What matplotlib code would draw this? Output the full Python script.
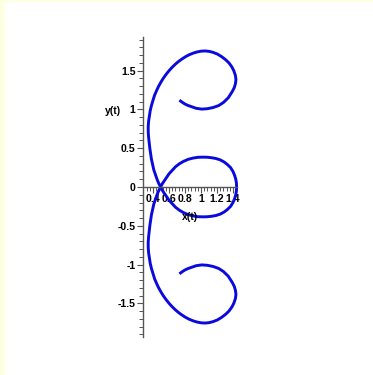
import matplotlib
matplotlib.use("Agg")
import matplotlib.pyplot as plt
from matplotlib.ticker import MultipleLocator, FixedLocator
from matplotlib.patches import Rectangle

# Parametric curve points (x(t), y(t)), in drawing order
x_pts = [0.73, 0.765, 0.80, 0.835, 0.87, 0.94, 1.01, 1.08, 1.15, 1.22, 1.28, 1.34, 1.39, 1.415, 1.43,
         1.437, 1.43, 1.41, 1.385, 1.35, 1.31, 1.26, 1.205, 1.15, 1.10, 1.05, 1.00, 0.95, 0.90, 0.85, 0.805,
         0.76, 0.72, 0.68, 0.64, 0.60, 0.565, 0.53,
         0.50, 0.47, 0.445, 0.42, 0.40, 0.38, 0.365, 0.355, 0.345, 0.34, 0.34, 0.345, 0.352, 0.36, 0.37,
         0.38, 0.395, 0.41, 0.43, 0.45, 0.47, 0.494,
         0.515, 0.54, 0.57, 0.60, 0.64, 0.68, 0.73, 0.78, 0.84, 0.90, 0.96, 1.02, 1.075, 1.13, 1.185,
         1.24, 1.29, 1.33, 1.37, 1.40, 1.42, 1.435, 1.443, 1.445,
         1.443, 1.435, 1.42, 1.40, 1.37, 1.33, 1.29, 1.24, 1.185, 1.13, 1.075, 1.02, 0.96, 0.90, 0.84,
         0.78, 0.73, 0.68, 0.64, 0.60, 0.57, 0.54, 0.515, 0.494,
         0.47, 0.45, 0.43, 0.41, 0.395, 0.38, 0.37, 0.36, 0.352, 0.345, 0.34, 0.34, 0.345, 0.355, 0.365,
         0.38, 0.40, 0.42, 0.445, 0.47, 0.50,
         0.53, 0.565, 0.60, 0.64, 0.68, 0.72, 0.76, 0.805, 0.85, 0.90, 0.95, 1.00, 1.05, 1.10, 1.15,
         1.205, 1.26, 1.31, 1.35, 1.385, 1.41, 1.43, 1.437, 1.43, 1.415, 1.39, 1.34, 1.28, 1.22, 1.15,
         1.08, 1.01, 0.94, 0.87, 0.835, 0.80, 0.765, 0.73]
y_pts = [1.12, 1.093, 1.07, 1.053, 1.04, 1.015, 1.005, 1.01, 1.025, 1.05, 1.09, 1.15, 1.23, 1.28, 1.33,
         1.385, 1.44, 1.50, 1.55, 1.60, 1.64, 1.68, 1.715, 1.737, 1.75, 1.755, 1.752, 1.742, 1.726, 1.705, 1.68,
         1.65, 1.62, 1.585, 1.545, 1.50, 1.455, 1.405,
         1.355, 1.30, 1.245, 1.185, 1.12, 1.05, 0.985, 0.92, 0.85, 0.78, 0.71, 0.64, 0.57, 0.50, 0.43,
         0.36, 0.29, 0.22, 0.16, 0.10, 0.05, 0.0,
         -0.04, -0.08, -0.125, -0.17, -0.215, -0.26, -0.30, -0.33, -0.357, -0.373, -0.383, -0.385, -0.384, -0.378, -0.368,
         -0.35, -0.322, -0.29, -0.25, -0.20, -0.15, -0.10, -0.05, 0.0,
         0.05, 0.10, 0.15, 0.20, 0.25, 0.29, 0.322, 0.35, 0.368, 0.378, 0.384, 0.385, 0.383, 0.373, 0.357,
         0.33, 0.30, 0.26, 0.215, 0.17, 0.125, 0.08, 0.04, 0.0,
         -0.05, -0.10, -0.16, -0.22, -0.29, -0.36, -0.43, -0.50, -0.57, -0.64, -0.71, -0.78, -0.85, -0.92, -0.985,
         -1.05, -1.12, -1.185, -1.245, -1.30, -1.355,
         -1.405, -1.455, -1.50, -1.545, -1.585, -1.62, -1.65, -1.68, -1.705, -1.726, -1.742, -1.752, -1.755, -1.75, -1.737,
         -1.715, -1.68, -1.64, -1.60, -1.55, -1.50, -1.44, -1.385, -1.33, -1.28, -1.23, -1.15, -1.09, -1.05, -1.025,
         -1.01, -1.005, -1.015, -1.04, -1.053, -1.07, -1.093, -1.12]

x_ticks = [0.4, 0.6, 0.8, 1.0, 1.2, 1.4]
x_tick_labels = ["0.4", "0.6", "0.8", "1", "1.2", "1.4"]
y_ticks = [-1.5, -1.0, -0.5, 0.0, 0.5, 1.0, 1.5]
y_tick_labels = ["-1.5", "-1", "-0.5", "0", "0.5", "1", "1.5"]

plt.rcParams['font.family'] = ['Liberation Sans', 'DejaVu Sans']

W, H = 373, 375
fig = plt.figure(figsize=(W / 100, H / 100), dpi=100, facecolor="white")

# light yellow frame strips (left and top)
fig.patches.append(Rectangle((0, 0), 5 / W, 1, transform=fig.transFigure,
                             facecolor="#FFFFE2", edgecolor="none"))
fig.patches.append(Rectangle((0, 1 - 2 / H), 1, 2 / H, transform=fig.transFigure,
                             facecolor="#FFFFE2", edgecolor="none"))

ax = fig.add_axes([142.7 / W, 38 / H, 94.3 / W, 300 / H])
ax.set_facecolor("none")
ax.plot(x_pts, y_pts, color="#0A0ADC", lw=2.1, solid_capstyle="butt",
        solid_joinstyle="round", clip_on=False)

ax.set_xlim(0.271, 1.45)
ax.set_ylim(-1.935, 1.935)

for s in ["top", "right"]:
    ax.spines[s].set_visible(False)
ax.spines["bottom"].set_position(("data", 0))
for s in ["left", "bottom"]:
    ax.spines[s].set_color("#555555")
    ax.spines[s].set_linewidth(1.0)

ax.xaxis.set_major_locator(FixedLocator(x_ticks))
ax.set_xticklabels(x_tick_labels)
ax.xaxis.set_minor_locator(MultipleLocator(0.04))
ax.yaxis.set_major_locator(FixedLocator(y_ticks))
ax.set_yticklabels(y_tick_labels)
ax.yaxis.set_minor_locator(MultipleLocator(0.1))

ax.tick_params(axis="both", which="major", direction="out", length=4, width=0.8,
               color="#555555", labelsize=7.6, pad=1.2)
ax.tick_params(axis="both", which="minor", direction="out", length=3, width=0.7,
               color="#555555")
for lab in ax.get_xticklabels() + ax.get_yticklabels():
    lab.set_fontweight("bold")

fig.text(190 / W, 1 - 217 / H, "x(t)", fontsize=7.6, fontweight="bold",
         ha="center", va="center")
fig.text(113 / W, 1 - 111 / H, "y(t)", fontsize=7.6, fontweight="bold",
         ha="center", va="center")

fig.savefig("out.png", dpi=100, facecolor=fig.get_facecolor())
